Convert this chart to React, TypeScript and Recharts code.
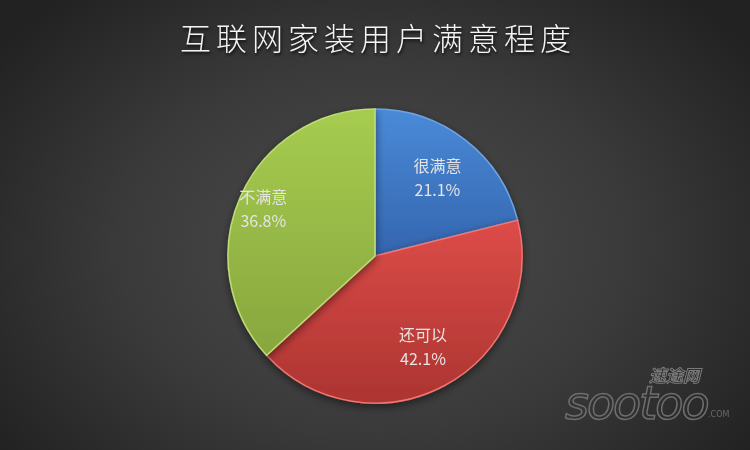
import { PieChart, Pie, Cell } from "recharts";

const categories = ["很满意", "还可以", "不满意"];
const shares = [21.1, 42.1, 36.8];

const data = categories.map((name, i) => ({ name, value: shares[i] }));

// top / bottom / edge colours for each slice
const fills = [
  { top: "#4a8ad8", bottom: "#3465ae", edge: "#6ea4e6" },
  { top: "#dd4c48", bottom: "#ac3431", edge: "#f07470" },
  { top: "#a6cc50", bottom: "#88a63d", edge: "#bedd7a" },
];

const RAD = Math.PI / 180;

const renderLabel = (props: any) => {
  const { cx, cy, midAngle, outerRadius, name, value } = props;
  const k = name === "不满意" ? 0.83 : 0.69;
  const r = outerRadius * k;
  const x = cx + r * Math.cos(-midAngle * RAD);
  const y = cy + r * Math.sin(-midAngle * RAD);
  return (
    <text
      x={x}
      y={y}
      textAnchor="middle"
      fill="#e4e4e4"
      fontSize={16}
      fontFamily="'Noto Sans CJK SC', sans-serif"
    >
      <tspan x={x} dy={-4}>
        {name}
      </tspan>
      <tspan x={x} dy={24}>{`${value.toFixed(1)}%`}</tspan>
    </text>
  );
};

export default function App() {
  return (
    <div
      style={{
        position: "fixed",
        left: 0,
        top: 0,
        width: 750,
        height: 450,
        overflow: "hidden",
        background:
          "radial-gradient(ellipse 62% 75% at 50% 55%, #4d4d4d 0%, #3a3a3a 55%, #222222 100%)",
        fontFamily: "'Noto Sans CJK SC', sans-serif",
      }}
    >
      <div
        style={{
          position: "absolute",
          top: 14,
          left: 0,
          width: 750,
          textAlign: "center",
          color: "#f4f4f4",
          fontSize: 31,
          letterSpacing: 5,
          paddingLeft: 3,
          textShadow: "1px 2px 3px rgba(0,0,0,0.8)",
          fontWeight: 300,
        }}
      >
        互联网家装用户满意程度
      </div>
      <PieChart width={750} height={450} margin={{ top: 0, right: 0, bottom: 0, left: 0 }}>
        <defs>
          {fills.map((f, i) => (
            <linearGradient key={i} id={`slice${i}`} x1="0" y1="0" x2="0" y2="1">
              <stop offset="0%" stopColor={f.top} />
              <stop offset="100%" stopColor={f.bottom} />
            </linearGradient>
          ))}
          <filter id="pieShadow" x="-20%" y="-20%" width="140%" height="140%">
            <feDropShadow dx="0" dy="3" stdDeviation="4" floodColor="#000" floodOpacity="0.5" />
          </filter>
        </defs>
        <Pie
          data={data}
          dataKey="value"
          nameKey="name"
          cx={375}
          cy={256}
          outerRadius={147}
          startAngle={90}
          endAngle={-270}
          labelLine={false}
          label={renderLabel}
          isAnimationActive={false}
          style={{ filter: "url(#pieShadow)" }}
        >
          {data.map((d, i) => (
            <Cell
              key={d.name}
              fill={`url(#slice${i})`}
              stroke={fills[i].edge}
              strokeWidth={1.5}
            />
          ))}
        </Pie>
      </PieChart>
      <div
        style={{
          position: "absolute",
          left: 649,
          top: 366,
          fontSize: 17,
          lineHeight: "18px",
          fontStyle: "italic",
          fontWeight: 700,
          color: "transparent",
          WebkitTextStroke: "1px #7a7a7a",
        }}
      >
        速途网
      </div>
      <div
        style={{
          position: "absolute",
          left: 565,
          top: 385,
          fontFamily: "'DejaVu Sans', sans-serif",
          fontSize: 46,
          lineHeight: "36px",
          height: 36,
          fontStyle: "italic",
          letterSpacing: -2,
          color: "transparent",
          WebkitTextStroke: "1.5px #6e6e6e",
        }}
      >
        sootoo
      </div>
      <div
        style={{
          position: "absolute",
          left: 708,
          top: 410,
          fontFamily: "'DejaVu Sans', sans-serif",
          fontSize: 8,
          color: "#6a6a6a",
        }}
      >
        .COM
      </div>
    </div>
  );
}
